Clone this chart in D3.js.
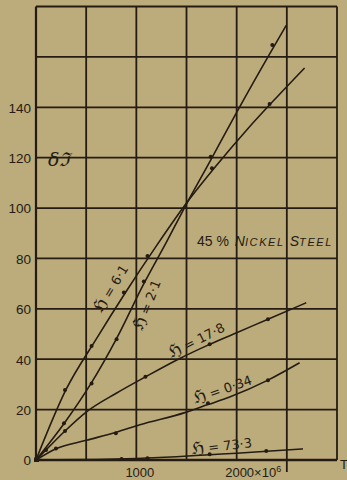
<!DOCTYPE html>
<html>
<head>
<meta charset="utf-8">
<script src="https://cdn.jsdelivr.net/npm/d3@7"></script>
<style>
  html, body { margin: 0; padding: 0; background: #bcab7b; }
  svg { display: block; }
  text { fill: #241c13; }
</style>
</head>
<body>
<svg id="chart" width="347" height="480"></svg>
<script>
// Change of magnetization (δℑ) against time T (×10⁶), 45 % nickel steel,
// for five field strengths ℌ.

const yTickValues = [0, 20, 40, 60, 80, 100, 120, 140];
const xTickValues = [1000, 2000];
const xGridValues = [500, 1000, 1500, 2000, 2500, 3000];
const yGridValues = [20, 40, 60, 80, 100, 120, 140, 160, 180];

// Faired curves, [T, δℑ]
const curve61 = [[0, 0], [300, 28], [600, 48], [900, 67], [1200, 85], [1500, 102], [1800, 117], [2100, 131], [2400, 144], [2677, 155.6]];
const curve21 = [[0, 0], [280, 14.5], [550, 30.5], [800, 48], [1075, 70], [1300, 86.5], [1505, 102], [1741, 119], [2000, 138], [2355, 163], [2494, 172.5]];
const curve178 = [[0, 0], [100, 4], [289, 11.5], [500, 19], [800, 26.5], [1091, 33], [1433, 40.3], [1731, 45.9], [2000, 50.5], [2312, 55.9], [2693, 62.4]];
const curve034 = [[0, 0], [200, 4.5], [500, 7.8], [800, 11], [1035, 14], [1483, 18.8], [1714, 22], [1930, 25], [2312, 31.7], [2627, 38.6]];
const curve733 = [[0, 0], [600, 0.2], [1000, 0.6], [1400, 1.3], [1731, 2.1], [2000, 2.7], [2300, 3.5], [2660, 4.4]];

// Observed points, [T, δℑ]
const obs61 = [[289, 27.8], [554, 45.2], [876, 66.5], [1111, 81], [1754, 115.8], [2328, 141.3]];
const obs21 = [[279, 14.6], [554, 30.4], [803, 47.9], [1075, 70.8], [1741, 120.4], [2355, 164.7]];
const obs178 = [[100, 4], [289, 11.5], [1091, 33], [1731, 45.9], [2312, 55.9]];
const obs034 = [[199, 4.6], [796, 10.6], [1714, 22.5], [2312, 31.7]];
const obs733 = [[853, 0.4], [1111, 0.7], [1731, 2.3], [2295, 3.6]];

// Curve labels: field value, anchor point [T, δℑ], rotation
const labelValue = ["6·1", "2·1", "17·8", "0·34", "73·3"];
const labelAt = [[750, 68], [1110, 61.5], [1600, 47.5], [1860, 28], [1850, 5.5]];
const labelAngle = [-59, -69, -27, -19, -7];

const ink = "#241c13";
const svg = d3.select("#chart");

const x = d3.scaleLinear().domain([0, 3000]).range([36, 337]);
const y = d3.scaleLinear().domain([0, 180]).range([460, 6.5]);

// grid
const grid = svg.append("g").attr("stroke", ink).attr("fill", "none");
grid.selectAll("line.v").data(xGridValues).join("line")
  .attr("x1", d => x(d)).attr("x2", d => x(d))
  .attr("y1", y(180)).attr("y2", d => d === 2500 ? y(0) + 12 : y(0))
  .attr("stroke-width", 1.8);
grid.selectAll("line.h").data(yGridValues).join("line")
  .attr("x1", x(0)).attr("x2", x(3000))
  .attr("y1", d => y(d)).attr("y2", d => y(d))
  .attr("stroke-width", 1.8);
// axes frame
grid.append("line").attr("x1", x(0)).attr("x2", x(0)).attr("y1", y(180)).attr("y2", y(0) + 1)
  .attr("stroke-width", 2.2);
grid.append("line").attr("x1", x(0)).attr("x2", x(3000)).attr("y1", y(0)).attr("y2", y(0))
  .attr("stroke-width", 2.6);
svg.append("rect").attr("x", x(0) - 2).attr("y", y(0) - 2.5).attr("width", 5).attr("height", 4.5).attr("fill", ink);

// tick labels
const yAxis = svg.append("g").attr("transform", `translate(${x(0) - 5},0)`)
  .call(d3.axisLeft(y).tickValues(yTickValues).tickSize(0).tickPadding(0).tickFormat(d3.format("d")));
yAxis.select(".domain").remove();
yAxis.selectAll("text").attr("font-family", "Liberation Sans, Arial, sans-serif")
  .attr("font-size", 13.5).attr("fill", ink).attr("dy", "0.36em");

const xAxis = svg.append("g").attr("transform", `translate(3,${y(0) + 5})`)
  .call(d3.axisBottom(x).tickValues(xTickValues).tickSize(0).tickPadding(0).tickFormat(d3.format("d")));
xAxis.select(".domain").remove();
xAxis.selectAll("text").attr("font-family", "Liberation Sans, Arial, sans-serif")
  .attr("font-size", 13).attr("fill", ink).attr("dy", "0.9em");
// ×10⁶ after 2000
xAxis.selectAll(".tick").filter(d => d === 2000).select("text")
  .attr("text-anchor", "start").attr("x", -15)
  .text(null)
  .call(t => {
    t.append("tspan").text("2000×10");
    t.append("tspan").attr("font-size", 9).attr("dy", "-0.5em").text("6");
  });

svg.append("text").attr("x", 340).attr("y", y(0) + 9)
  .attr("font-family", "Liberation Sans, Arial, sans-serif").attr("font-size", 13).text("T");

svg.append("text").attr("x", 48).attr("y", 166)
  .attr("font-family", "DejaVu Serif, serif").attr("font-style", "italic").attr("font-size", 19)
  .text("δℑ");

// title
const title = svg.append("text").attr("x", 197).attr("y", 246)
  .attr("font-family", "Liberation Sans, Arial, sans-serif").attr("fill", ink);
title.append("tspan").attr("font-size", 14).text("45 % ");
const titleWords = [["N", "ICKEL"], ["S", "TEEL"]];
titleWords.forEach((w, i) => {
  title.append("tspan").attr("font-size", 14).attr("font-style", "italic").attr("dx", i ? 5 : 2).text(w[0]);
  title.append("tspan").attr("font-size", 11).attr("font-style", "italic").attr("letter-spacing", 1.6).text(w[1]);
});

// curves
const line = d3.line().x(d => x(d[0])).y(d => y(d[1])).curve(d3.curveMonotoneX);
const curves = [curve61, curve21, curve178, curve034, curve733];
svg.append("g").selectAll("path").data(curves).join("path")
  .attr("d", line).attr("fill", "none").attr("stroke", ink).attr("stroke-width", 1.6);

// observed points
const observed = [obs61, obs21, obs178, obs034, obs733];
svg.append("g").selectAll("g").data(observed).join("g")
  .selectAll("circle").data(d => d).join("circle")
  .attr("cx", d => x(d[0])).attr("cy", d => y(d[1])).attr("r", 2).attr("fill", ink);

// curve labels
svg.append("g").selectAll("text").data(labelValue).join("text")
  .attr("transform", (d, i) => `translate(${x(labelAt[i][0])},${y(labelAt[i][1])}) rotate(${labelAngle[i]})`)
  .attr("text-anchor", "middle").attr("dy", "0.35em")
  .attr("font-family", "DejaVu Sans, sans-serif").attr("font-size", 13)
  .each(function (d) {
    const t = d3.select(this);
    t.append("tspan").attr("font-size", 17).text("ℌ");
    t.append("tspan").text(" = " + d);
  });
</script>
</body>
</html>
